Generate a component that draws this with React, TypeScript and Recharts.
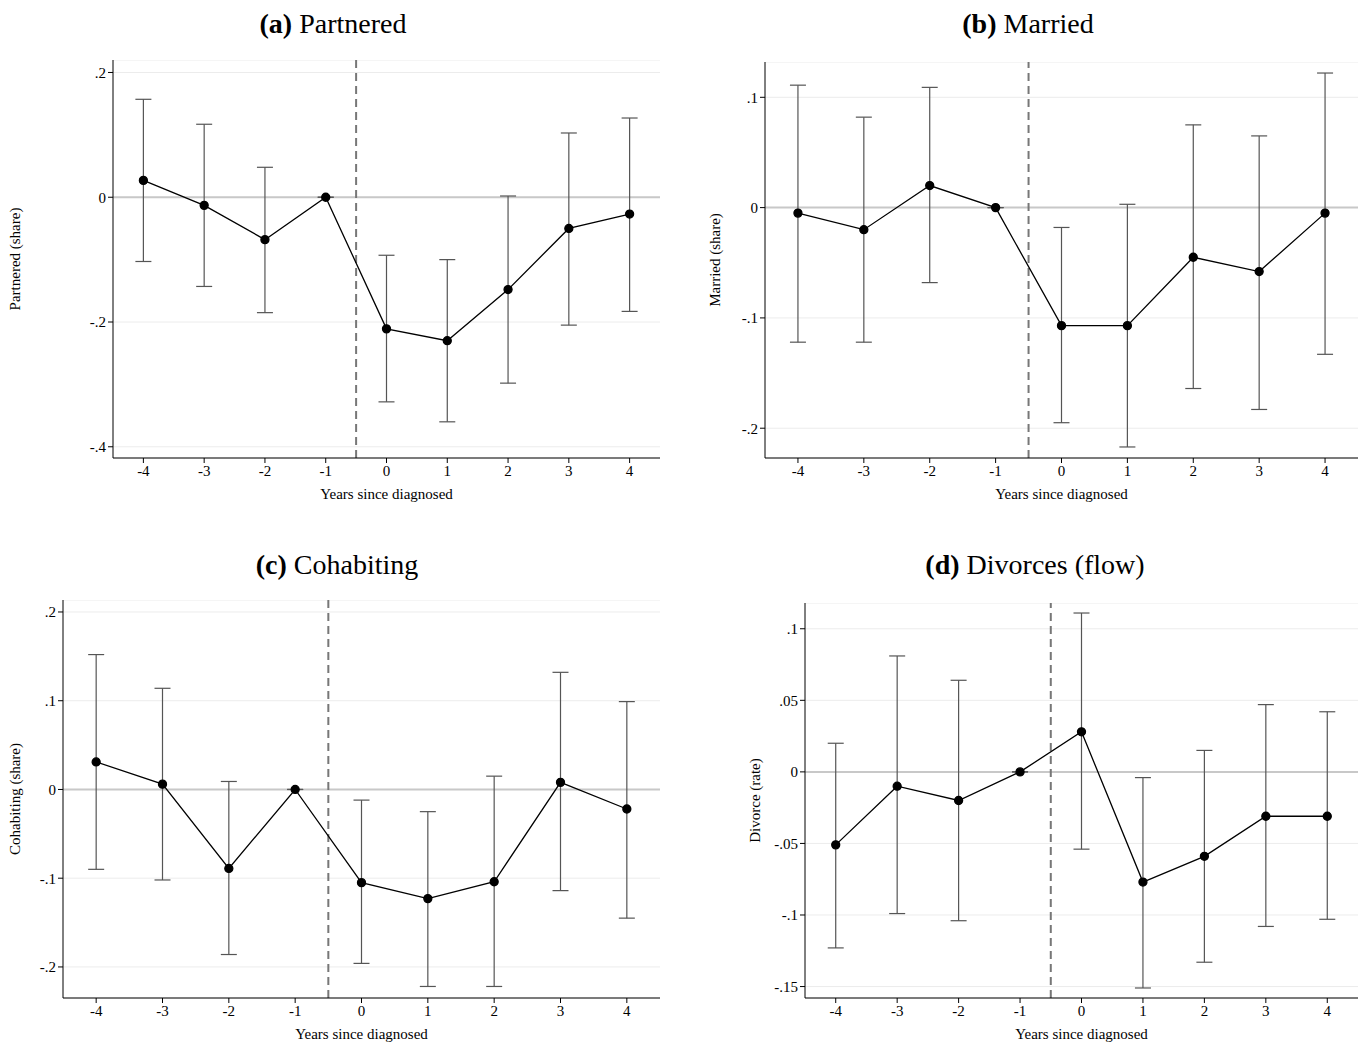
import React from "react";
import { ComposedChart, Line, XAxis, YAxis, CartesianGrid, ReferenceLine, ErrorBar, Label } from "recharts";

const years = [-4, -3, -2, -1, 0, 1, 2, 3, 4];

const partneredEst = [0.027, -0.013, -0.068, 0, -0.211, -0.230, -0.148, -0.050, -0.027];
const partneredHi = [0.157, 0.117, 0.048, 0, -0.093, -0.100, 0.002, 0.103, 0.127];
const partneredLo = [-0.103, -0.143, -0.185, 0, -0.328, -0.360, -0.298, -0.205, -0.183];

const marriedEst = [-0.005, -0.020, 0.020, 0, -0.107, -0.107, -0.045, -0.058, -0.005];
const marriedHi = [0.111, 0.082, 0.109, 0, -0.018, 0.003, 0.075, 0.065, 0.122];
const marriedLo = [-0.122, -0.122, -0.068, 0, -0.195, -0.217, -0.164, -0.183, -0.133];

const cohabEst = [0.031, 0.006, -0.089, 0, -0.105, -0.123, -0.104, 0.008, -0.022];
const cohabHi = [0.152, 0.114, 0.009, 0, -0.012, -0.025, 0.015, 0.132, 0.099];
const cohabLo = [-0.090, -0.102, -0.186, 0, -0.196, -0.222, -0.222, -0.114, -0.145];

const divorceEst = [-0.051, -0.010, -0.020, 0, 0.028, -0.077, -0.059, -0.031, -0.031];
const divorceHi = [0.020, 0.081, 0.064, 0, 0.111, -0.004, 0.015, 0.047, 0.042];
const divorceLo = [-0.123, -0.099, -0.104, 0, -0.054, -0.151, -0.133, -0.108, -0.103];

const fmt = (v: number) => {
  if (v === 0) return "0";
  const s = String(Math.round(v * 1000) / 1000);
  return s.replace(/^(-?)0\./, "$1.");
};

const build = (e: number[], hi: number[], lo: number[]) =>
  years.map((x, i) => ({ x, y: e[i], err: [e[i] - lo[i], hi[i] - e[i]] }));

const FONT = "'Liberation Serif', 'Times New Roman', serif";

type PanelProps = {
  left: number; top: number; width: number; height: number; yw: number;
  domain: [number, number]; ticks: number[]; data: any[]; ylabel: string;
};

const Panel = ({ left, top, width, height, yw, domain, ticks, data, ylabel }: PanelProps) => (
  <div style={{ position: "absolute", left, top }}>
    <ComposedChart width={width} height={height} data={data} margin={{ top: 0, right: 0, bottom: 0, left: 0 }}>
      <CartesianGrid vertical={false} stroke="#ececec" />
      <XAxis dataKey="x" type="number" domain={[-4.5, 4.5]} ticks={years} height={50}
        tick={{ fill: "#000", fontSize: 15, fontFamily: FONT }} stroke="#000" tickSize={5}>
        <Label value="Years since diagnosed" position="insideBottom" offset={9}
          style={{ fill: "#000", fontSize: 15, fontFamily: FONT }} />
      </XAxis>
      <YAxis type="number" domain={domain} ticks={ticks} width={yw} tickFormatter={fmt}
        tick={{ fill: "#000", fontSize: 15, fontFamily: FONT }} stroke="#000" tickSize={5}
        allowDataOverflow>
        <Label value={ylabel} angle={-90} position="insideLeft" offset={15}
          style={{ fill: "#000", fontSize: 15, fontFamily: FONT, textAnchor: "middle" }} />
      </YAxis>
      <ReferenceLine y={0} stroke="#c8c8c8" strokeWidth={2} />
      <ReferenceLine x={-0.5} stroke="#777" strokeWidth={2} strokeDasharray="8 5" />
      <Line dataKey="y" stroke="#000" strokeWidth={1.3} isAnimationActive={false}
        dot={{ r: 4, fill: "#000", stroke: "#000" }}>
        <ErrorBar dataKey="err" width={8} stroke="#555" strokeWidth={1.2} direction="y" />
      </Line>
    </ComposedChart>
  </div>
);

const Title = ({ x, y, tag, text }: { x: number; y: number; tag: string; text: string }) => (
  <div style={{ position: "absolute", left: x - 200, top: y - 16, width: 400, textAlign: "center",
    fontFamily: FONT, fontSize: 28, color: "#000" }}>
    <b>{tag}</b> {text}
  </div>
);

export default function App() {
  return (
    <div style={{ position: "fixed", left: 0, top: 0, width: 1367, height: 1047, background: "#fff" }}>
      <Title x={333} y={24} tag="(a)" text="Partnered" />
      <Title x={1028} y={24} tag="(b)" text="Married" />
      <Title x={337} y={565} tag="(c)" text="Cohabiting" />
      <Title x={1035} y={565} tag="(d)" text="Divorces (flow)" />
      <Panel left={0} top={60} width={660} height={448} yw={113} domain={[-0.418, 0.22]}
        ticks={[-0.4, -0.2, 0, 0.2]} data={build(partneredEst, partneredHi, partneredLo)} ylabel="Partnered (share)" />
      <Panel left={700} top={62} width={658} height={446} yw={65} domain={[-0.227, 0.132]}
        ticks={[-0.2, -0.1, 0, 0.1]} data={build(marriedEst, marriedHi, marriedLo)} ylabel="Married (share)" />
      <Panel left={0} top={600} width={660} height={448} yw={63} domain={[-0.235, 0.2135]}
        ticks={[-0.2, -0.1, 0, 0.1, 0.2]} data={build(cohabEst, cohabHi, cohabLo)} ylabel="Cohabiting (share)" />
      <Panel left={740} top={603} width={618} height={445} yw={65} domain={[-0.158, 0.118]}
        ticks={[-0.15, -0.1, -0.05, 0, 0.05, 0.1]} data={build(divorceEst, divorceHi, divorceLo)} ylabel="Divorce (rate)" />
    </div>
  );
}
